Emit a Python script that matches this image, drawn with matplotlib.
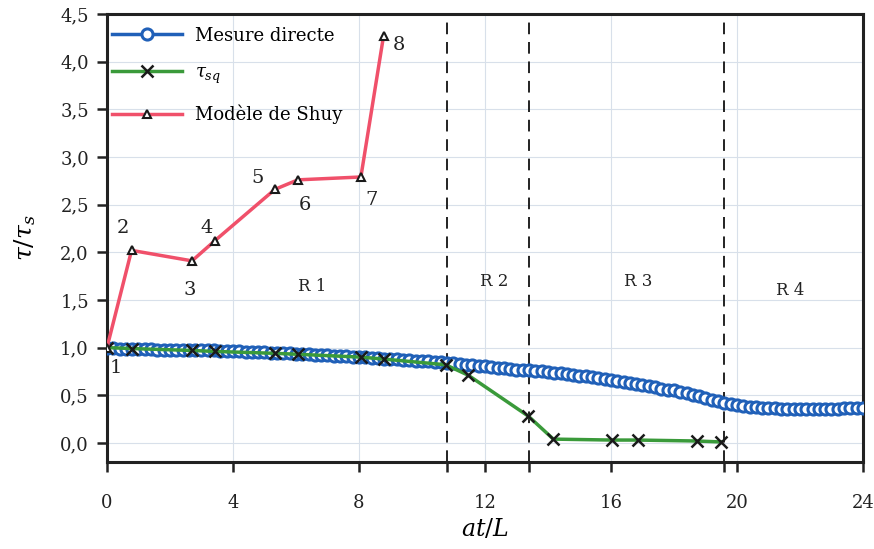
import matplotlib.pyplot as plt
import numpy as np

# Mesure directe, sampled every 0.2 at/L from 0 to 24
mesure_y = [
    1.00, 1.00, 0.99, 0.99, 0.99, 0.99, 0.99, 0.99, 0.98, 0.98,
    0.98, 0.98, 0.98, 0.97, 0.97, 0.97, 0.97, 0.97, 0.96, 0.96,
    0.96, 0.96, 0.95, 0.95, 0.95, 0.95, 0.94, 0.94, 0.94, 0.94,
    0.93, 0.93, 0.93, 0.92, 0.92, 0.92, 0.91, 0.91, 0.91, 0.90,
    0.90, 0.90, 0.89, 0.89, 0.88, 0.88, 0.88, 0.87, 0.87, 0.86,
    0.86, 0.86, 0.85, 0.85, 0.84, 0.84, 0.83, 0.82, 0.82, 0.81,
    0.81, 0.80, 0.79, 0.79, 0.78, 0.77, 0.77, 0.76, 0.75, 0.75,
    0.74, 0.73, 0.73, 0.72, 0.71, 0.70, 0.70, 0.69, 0.68, 0.67,
    0.66, 0.65, 0.64, 0.63, 0.62, 0.61, 0.60, 0.59, 0.57, 0.56,
    0.55, 0.53, 0.52, 0.50, 0.49, 0.47, 0.45, 0.44, 0.42, 0.41,
    0.40, 0.39, 0.38, 0.38, 0.37, 0.37, 0.37, 0.36, 0.36, 0.36,
    0.36, 0.36, 0.36, 0.36, 0.36, 0.36, 0.36, 0.37, 0.37, 0.37,
    0.37,
]
mesure_x = np.linspace(0, 24, len(mesure_y))

tsq_x = [0.0, 0.78, 2.70, 3.42, 5.33, 6.06, 8.06, 8.78, 10.75, 11.47,
         13.38, 14.17, 16.03, 16.85, 18.73, 19.5]
tsq_y = [1.00, 0.99, 0.97, 0.96, 0.94, 0.93, 0.90, 0.88, 0.82, 0.71,
         0.28, 0.04, 0.03, 0.03, 0.02, 0.01]

shuy_x = [0.0, 0.78, 2.70, 3.42, 5.33, 6.06, 8.06, 8.78]
shuy_y = [1.00, 2.02, 1.91, 2.12, 2.66, 2.76, 2.79, 4.27]
shuy_labels = ["1", "2", "3", "4", "5", "6", "7", "8"]
label_offsets = [(0.27, -0.21), (-0.26, 0.23), (-0.08, -0.31), (-0.26, 0.13),
                 (-0.55, 0.12), (0.24, -0.26), (0.34, -0.24), (0.49, -0.10)]

region_bounds = [10.8, 13.41, 19.58]
region_names = ["R 1", "R 2", "R 3", "R 4"]
region_x = [6.53, 12.3, 16.85, 21.7]
region_y = [1.64, 1.69, 1.69, 1.60]

plt.rcParams["font.family"] = ["DejaVu Serif"]
plt.rcParams["mathtext.fontset"] = "dejavuserif"

fig = plt.figure(figsize=(8.74, 5.49), dpi=100)
ax = fig.add_axes([0.1224, 0.1585, 0.865, 0.816])

ax.plot(mesure_x, mesure_y, color="#2060b8", lw=2.5, marker="o", ms=8,
        mfc="white", mec="#2060b8", mew=2.2, label="Mesure directe", zorder=3)
ax.plot(tsq_x, tsq_y, color="#3a9a3a", lw=2.5, marker="x", ms=9,
        mec="#1a1a1a", mew=1.8, label=r"$\tau_{sq}$", zorder=4)
ax.plot(shuy_x, shuy_y, color="#f0506a", lw=2.5, marker="^", ms=6,
        mfc="white", mec="#1a1a1a", mew=1.5, label="Modèle de Shuy", zorder=5)

for x, y, t, (dx, dy) in zip(shuy_x, shuy_y, shuy_labels, label_offsets):
    ax.text(x + dx, y + dy, t, fontsize=14, ha="center", va="center",
            color="#222222")

for b in region_bounds:
    ax.axvline(b, color="#222222", lw=1.4, ls=(0, (6, 4)), zorder=2)
for name, x, y in zip(region_names, region_x, region_y):
    ax.text(x, y, name, fontsize=12, ha="center", va="center",
            color="#222222")

ax.set_xlim(0, 24)
ax.set_ylim(-0.2, 4.5)
ax.set_xticks([0, 4, 8, 12, 16, 20, 24])
ax.set_xticks(region_bounds, minor=True)
ax.set_yticks(np.arange(0, 4.51, 0.5))
ax.set_yticklabels([f"{v:.1f}".replace(".", ",") for v in np.arange(0, 4.51, 0.5)])
ax.tick_params(axis="both", which="both", direction="out", length=7, width=1.8,
               colors="#222222", labelsize=13)
ax.tick_params(axis="x", pad=16)
ax.tick_params(axis="y", pad=6)
ax.grid(True, color="#d8e0ea", lw=0.8)
ax.set_axisbelow(True)
for s in ax.spines.values():
    s.set_linewidth(2.2)
    s.set_color("#222222")

ax.set_xlabel(r"$at/L$", fontsize=17, labelpad=4)
ax.set_ylabel(r"$\tau/\tau_s$", fontsize=18, labelpad=16)

ax.legend(loc="upper left", bbox_to_anchor=(-0.01, 1.0), frameon=False,
          fontsize=13, handlelength=3.9, borderaxespad=0.3, labelspacing=1.05,
          handletextpad=0.7)

fig.savefig("out.png", dpi=100)
